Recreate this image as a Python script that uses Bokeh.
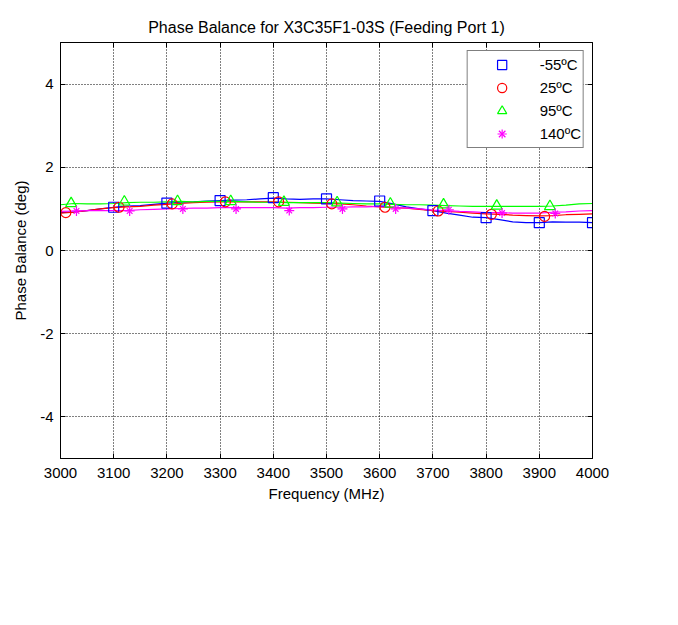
from bokeh.plotting import figure
from bokeh.models import (LinearAxis, Legend, LegendItem, FixedTicker, PrintfTickFormatter,
                          CustomJSTickFormatter)
from bokeh.embed import file_html
from bokeh.resources import INLINE

# ---------------- data ----------------
freq = [3000, 3025, 3050, 3075, 3100, 3125, 3150, 3175, 3200, 3225, 3250, 3275, 3300, 3325,
        3350, 3375, 3400, 3425, 3450, 3475, 3500, 3525, 3550, 3575, 3600, 3625, 3650, 3675,
        3700, 3725, 3750, 3775, 3800, 3825, 3850, 3875, 3900, 3925, 3950, 3975, 4000]

bal_m55 = [0.91, 0.93, 0.96, 1.00, 1.04, 1.07, 1.08, 1.11, 1.14, 1.16, 1.17, 1.19, 1.20, 1.21,
           1.22, 1.24, 1.26, 1.24, 1.23, 1.24, 1.24, 1.22, 1.20, 1.19, 1.18, 1.12, 1.05, 1.00,
           0.96, 0.90, 0.85, 0.80, 0.79, 0.74, 0.69, 0.67, 0.67, 0.69, 0.68, 0.68, 0.67]

bal_25 = [0.90, 0.92, 0.96, 1.00, 1.03, 1.05, 1.06, 1.09, 1.11, 1.13, 1.15, 1.16, 1.17, 1.17,
          1.17, 1.17, 1.17, 1.16, 1.15, 1.14, 1.13, 1.12, 1.10, 1.07, 1.05, 1.03, 1.02, 0.99,
          0.96, 0.94, 0.92, 0.90, 0.88, 0.87, 0.85, 0.84, 0.83, 0.84, 0.86, 0.87, 0.88]

bal_95 = [1.10, 1.13, 1.12, 1.12, 1.13, 1.15, 1.16, 1.16, 1.17, 1.18, 1.17, 1.18, 1.18, 1.18,
          1.17, 1.16, 1.16, 1.15, 1.15, 1.15, 1.15, 1.14, 1.13, 1.12, 1.12, 1.11, 1.10, 1.10,
          1.09, 1.08, 1.07, 1.06, 1.06, 1.06, 1.06, 1.06, 1.06, 1.07, 1.09, 1.12, 1.13]

bal_140 = [0.94, 0.95, 0.96, 0.96, 0.96, 0.96, 0.98, 0.99, 1.00, 1.01, 1.02, 1.02, 1.03, 1.03,
           1.03, 1.03, 1.03, 1.02, 1.03, 1.03, 1.04, 1.04, 1.05, 1.05, 1.06, 1.04, 1.02, 1.00,
           0.97, 0.96, 0.94, 0.93, 0.91, 0.91, 0.90, 0.90, 0.90, 0.92, 0.93, 0.95, 0.96]

mk_m55_f = [3100, 3200, 3300, 3400, 3500, 3600, 3700, 3800, 3900, 4000]
mk_m55_v = [1.04, 1.14, 1.20, 1.27, 1.24, 1.19, 0.96, 0.79, 0.67, 0.67]
mk_25_f = [3010, 3110, 3210, 3310, 3410, 3510, 3610, 3710, 3810, 3910]
mk_25_v = [0.91, 1.04, 1.12, 1.17, 1.17, 1.12, 1.04, 0.95, 0.87, 0.82]
mk_95_f = [3020, 3120, 3220, 3320, 3420, 3520, 3620, 3720, 3820, 3920]
mk_95_v = [1.13, 1.17, 1.18, 1.18, 1.16, 1.15, 1.12, 1.10, 1.07, 1.06]
mk_140_f = [3030, 3130, 3230, 3330, 3430, 3530, 3630, 3730, 3830, 3930]
mk_140_v = [0.95, 0.95, 1.00, 1.00, 0.96, 1.00, 1.00, 0.98, 0.90, 0.89]

labels = ["-55ºC", "25ºC", "95ºC", "140ºC"]
x_ticks = [3000, 3100, 3200, 3300, 3400, 3500, 3600, 3700, 3800, 3900, 4000]
y_ticks = [-4, -2, 0, 2, 4]

# ---------------- figure ----------------
FONT = "Liberation Sans"
p = figure(width=612, height=508, x_range=(3000, 4000), y_range=(-5, 5),
           output_backend="svg", toolbar_location=None,
           min_border_left=60, min_border_right=20, min_border_top=42, min_border_bottom=50,
           title="Phase Balance for X3C35F1-03S (Feeding Port 1)")
p.title.align = "center"
p.title.text_font = FONT
p.title.text_font_size = "16px"
p.title.text_font_style = "normal"
p.title.text_color = "black"
p.title.standoff = 13

p.outline_line_color = "black"
p.outline_line_width = 1
p.background_fill_color = "white"
p.border_fill_color = "white"

for ax in (p.xaxis[0], p.yaxis[0]):
    ax.major_tick_in = 5
    ax.major_tick_out = 0
    ax.minor_tick_in = 0
    ax.minor_tick_out = 0
    ax.axis_line_color = "black"
    ax.major_tick_line_color = "black"
    ax.major_label_text_font = FONT
    ax.major_label_text_font_size = "15px"
    ax.major_label_text_color = "black"
    ax.axis_label_text_font = FONT
    ax.axis_label_text_font_size = "15px"
    ax.axis_label_text_font_style = "normal"
    ax.axis_label_text_color = "black"

p.xaxis[0].ticker = FixedTicker(ticks=x_ticks)
p.yaxis[0].ticker = FixedTicker(ticks=y_ticks)
p.yaxis[0].formatter = PrintfTickFormatter(format="%d")
p.xaxis[0].formatter = PrintfTickFormatter(format="%d")
p.xaxis[0].axis_label = "Frequency (MHz)"
p.yaxis[0].axis_label = "Phase Balance (deg)"
p.xaxis[0].major_label_standoff = 9
p.yaxis[0].major_label_standoff = 7
p.xaxis[0].axis_label_standoff = 4
p.yaxis[0].axis_label_standoff = 8

for loc, tk in (("above", x_ticks), ("right", y_ticks)):
    ax = LinearAxis(ticker=FixedTicker(ticks=tk), major_tick_in=5, major_tick_out=0,
                    minor_tick_in=0, minor_tick_out=0,
                    formatter=CustomJSTickFormatter(code="return ''"),
                    axis_line_color="black", major_tick_line_color="black",
                    major_label_standoff=0)
    p.add_layout(ax, loc)

for g in (p.xgrid[0], p.ygrid[0]):
    g.grid_line_color = "black"
    g.grid_line_dash = "1 2"
    g.grid_line_width = 1
p.xgrid[0].ticker = FixedTicker(ticks=x_ticks)
p.ygrid[0].ticker = FixedTicker(ticks=y_ticks)

colors = ["#0000FF", "#FF0000", "#00FF00", "#FF00FF"]
series = [bal_m55, bal_25, bal_95, bal_140]
for s, c in zip(series, colors):
    p.line(freq, s, line_color=c, line_width=1.2)

r_sq = p.scatter(mk_m55_f, mk_m55_v, marker="square", size=10, fill_color=None,
                 line_color=colors[0], line_width=1.2)
r_ci = p.scatter(mk_25_f, mk_25_v, marker="circle", size=10, fill_color=None,
                 line_color=colors[1], line_width=1.2)
r_tr = p.scatter(mk_95_f, mk_95_v, marker="triangle", size=11, fill_color=None,
                 line_color=colors[2], line_width=1.2)
r_st1 = p.scatter(mk_140_f, mk_140_v, marker="cross", size=10, fill_color=None,
                  line_color=colors[3], line_width=1.2)
r_st2 = p.scatter(mk_140_f, mk_140_v, marker="x", size=8, fill_color=None,
                  line_color=colors[3], line_width=1.2)

legend = Legend(items=[LegendItem(label=labels[0], renderers=[r_sq]),
                       LegendItem(label=labels[1], renderers=[r_ci]),
                       LegendItem(label=labels[2], renderers=[r_tr]),
                       LegendItem(label=labels[3], renderers=[r_st1, r_st2])],
                location="top_right", margin=8, padding=2, spacing=0,
                glyph_width=64, glyph_height=23, label_height=23, label_standoff=6,
                label_text_font=FONT, label_text_font_size="15px", label_text_color="black",
                border_line_color="black", border_line_width=1.5,
                background_fill_color="white", background_fill_alpha=1.0)
p.add_layout(legend)

open("out.html", "w").write(file_html(p, INLINE))
